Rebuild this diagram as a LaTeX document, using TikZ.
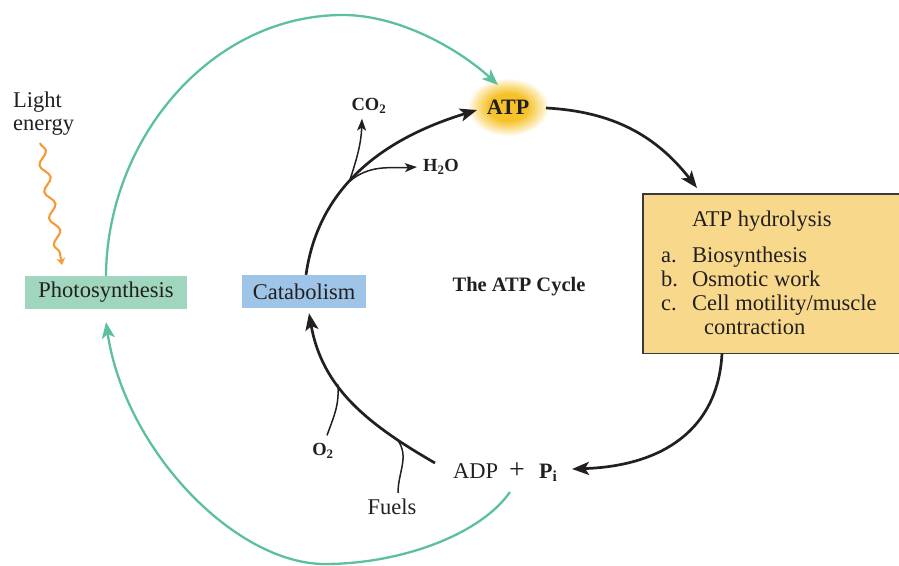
\documentclass[tikz,border=0pt]{standalone}
\usepackage{fontspec}
\setmainfont{Liberation Serif}
\usetikzlibrary{arrows.meta,decorations.pathmorphing,calc}
\definecolor{ink}{HTML}{231F20}
\definecolor{gline}{HTML}{5CC19B}
\definecolor{gbox}{HTML}{A0D6BE}
\definecolor{bbox}{HTML}{9EC5E7}
\definecolor{ybox}{HTML}{F8D98C}
\definecolor{ornge}{HTML}{F59A35}
\definecolor{atpy}{HTML}{F6C22C}
\definecolor{atpp}{HTML}{FBE6A6}
\definecolor{boxedge}{HTML}{3A3A3A}
\pgfdeclareradialshading{atpglow}{\pgfpoint{0bp}{0bp}}{color(0bp)=(atpy); color(12bp)=(atpy); color(20bp)=(atpp); color(25bp)=(white); color(50bp)=(white)}
\begin{document}
\begin{tikzpicture}[x=1pt,y=-1pt,
  txt/.style={inner sep=0pt, text=ink, font=\fontsize{22.5}{24}\selectfont},
  btxt/.style={inner sep=0pt, text=ink, font=\fontsize{20.5}{24}\selectfont\bfseries},
  stxt/.style={inner sep=0pt, text=ink, font=\fontsize{18.5}{20}\selectfont\bfseries},
  procbox/.style={minimum height=33pt, inner sep=0pt, text=ink, font=\fontsize{22.5}{24}\selectfont},
  cyc/.style={ink, line width=2.7pt, -{Stealth[length=17pt,width=13pt,inset=4pt]}},
  side/.style={ink, line width=1.5pt},
  sidearr/.style={side, -{Stealth[length=12pt,width=9pt,inset=3pt]}},
  gr/.style={gline, line width=2.3pt, -{Stealth[length=16pt,width=13pt,inset=4pt]}},
  boxline/.style={boxedge, line width=1.3pt},
  wave/.style={ornge, line width=2.1pt, decorate, decoration={snake, amplitude=4.5pt, segment length=27pt, post length=7pt}},
]
\useasboundingbox (0,0) rectangle (899,565);

% ATP glow and label
\shade[shading=atpglow] (508,107) ellipse (41 and 29);
\node[btxt, font=\fontsize{22}{24}\selectfont\bfseries] (atp) at (508,107) {ATP};

% process boxes
\node[procbox, fill=gbox, minimum width=162pt] (photo) at (106,292.5) {Photosynthesis};
\node[procbox, fill=bbox, minimum width=124pt] (cat) at (304,291.5) {Catabolism};
\node[btxt] (title) at (519,287) {The ATP Cycle};

% hydrolysis box
\node[fill=ybox, minimum width=256pt, minimum height=159pt, anchor=north west, inner sep=0pt] (hyd) at (643,194) {};
\draw[boxline] (hyd.north east) -- (hyd.north west) -- (hyd.south west) -- (hyd.south east);
\node[txt, anchor=base west] (h0) at (692,226.5) {ATP hydrolysis};
\node[txt, anchor=base west] (ha) at (661,262.5) {a.};
\node[txt, anchor=base west] (hat) at (692,262.5) {Biosynthesis};
\node[txt, anchor=base west] (hb) at (661,286.5) {b.};
\node[txt, anchor=base west] (hbt) at (692,286.5) {Osmotic work};
\node[txt, anchor=base west] (hc) at (661,310.5) {c.};
\node[txt, anchor=base west] (hct) at (692,310.5) {Cell motility/muscle};
\node[txt, anchor=base west] (hct2) at (704,334) {contraction};

% light energy
\node[txt, anchor=base west] (light1) at (13,107) {Light};
\node[txt, anchor=base west] (light2) at (13,130) {energy};

% ADP + Pi
\node[txt, anchor=base west] (adp) at (453,478) {ADP};
\node[txt, anchor=base, font=\fontsize{28}{28}\selectfont] (plus) at (517,478) {+};
\node[btxt, anchor=base west, font=\fontsize{22}{24}\selectfont\bfseries] (pi) at (539,478) {P\textsubscript{i}};

% small labels
\node[stxt] (co2) at (369,106) {CO\textsubscript{2}};
\node[stxt] (h2o) at (441,167) {H\textsubscript{2}O};
\node[stxt] (o2) at (323,451) {O\textsubscript{2}};
\node[txt] (fuels) at (392,507) {Fuels};

% named end points
\coordinate (atpIn) at (477,110);
\coordinate (atpOut) at (546,108);
\coordinate (hydIn) at ([xshift=54pt,yshift=6pt]hyd.north west);
\coordinate (hydOut) at ([xshift=79pt]hyd.south west);
\coordinate (piIn) at (572,469);
\coordinate (adpOut) at (435,463);
\coordinate (catTop) at ([xshift=2pt]cat.north);
\coordinate (catBot) at ([xshift=5pt,yshift=-5pt]cat.south);
\coordinate (lightStart) at (40,143);
\coordinate (lightEnd) at (62,265);
\coordinate (gEnd) at (498,85);
\coordinate (gStart) at (510,492);

% ATP cycle arcs
\draw[cyc] (catTop) to[out=82,in=197] coordinate[pos=0.42] (jn1) (atpIn);
\draw[cyc] (atpOut) to[out=-3,in=128] (hydIn);
\draw[cyc] (hydOut) .. controls (718,430) and (662,466) .. (piIn);
\draw[cyc] (adpOut) to[out=150,in=-80] coordinate[pos=0.2] (jnF) coordinate[pos=0.62] (jnO) (catBot);

% side branches
\draw[sidearr] (jn1) to[out=72,in=-92] ([xshift=-7pt,yshift=-5pt]co2.south);
\draw[sidearr] (jn1) to[out=40,in=183] ([xshift=-6pt]h2o.west);
\draw[side] (jnO) to[out=-85,in=70] ([xshift=4pt,yshift=8pt]o2.north);
\draw[side] (jnF) to[out=-55,in=90] ([xshift=6pt,yshift=6pt]fuels.north);

% light wave
\draw[wave, -{Stealth[length=7pt,width=9pt]}] (lightStart) -- (lightEnd);

% green photosynthesis loops
\draw[gr] (photo.north) .. controls (107,140) and (210,15) .. (343,15)
  .. controls (400,15) and (460,50) .. (gEnd);
\draw[gr] (gStart) .. controls (480,535) and (400,564) .. (325,564)
  .. controls (235,564) and (125,450) .. ([yshift=-13pt]photo.south);
\end{tikzpicture}
\end{document}
